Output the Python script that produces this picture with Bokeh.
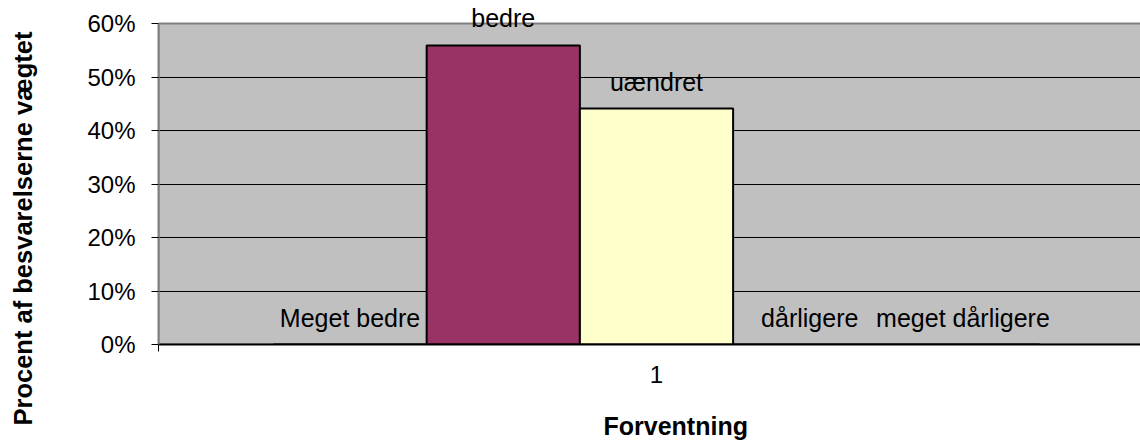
import math
from bokeh.plotting import figure
from bokeh.layouts import row, column
from bokeh.models import Range1d, FixedTicker, NumeralTickFormatter, Label, ColumnDataSource
from bokeh.core.properties import value
from bokeh.embed import file_html
from bokeh.resources import INLINE

# data
series = ["Meget bedre", "bedre", "uændret", "dårligere", "meget dårligere"]
values = [0.0, 0.559, 0.441, 0.0, 0.0]
colors = ["#9999FF", "#993366", "#FFFFCC", "#CCFFFF", "#660066"]
category = "1"
y_ticks = [0.0, 0.1, 0.2, 0.3, 0.4, 0.5, 0.6]
x_title = "Forventning"
y_title = "Procent af besvarelserne vægtet"

FONT = "Liberation Sans"

# layout sizes (pixels)
LEFT_W = 40          # strip holding the y title
MAIN_W = 1140 - LEFT_W
FRAME_W = 982
BORDER_L = MAIN_W - FRAME_W
FRAME_H = 344        # frame reaches the top of the canvas; plot area is 321px tall
PLOT_H = 321
MAIN_H = 400
BOTTOM_H = 442 - MAIN_H

# Excel-like clustered layout: one category spanning [0, 1], gap width 150%
n = len(series)
bar_w = 1.0 / (n + 1.5)
centers = [0.5 + (i - (n - 1) / 2) * bar_w for i in range(n)]
y_max = y_ticks[-1]

src = ColumnDataSource(dict(x=centers, top=values, color=colors, name=series))

p = figure(width=MAIN_W, height=MAIN_H, frame_width=FRAME_W, frame_height=FRAME_H,
           x_range=Range1d(0, FRAME_W / 996), y_range=Range1d(0, y_max * FRAME_H / PLOT_H),
           output_backend="svg", toolbar_location=None,
           min_border_left=BORDER_L, min_border_right=0,
           min_border_top=0, min_border_bottom=MAIN_H - FRAME_H)

p.background_fill_color = "white"
p.border_fill_color = "white"
p.outline_line_color = None

# grey plot area (Excel style)
p.quad(left=[0.0], right=[1.0], bottom=[0.0], top=[y_max],
       fill_color="#C0C0C0", line_color="#808080", line_width=2, level="image")

p.vbar(x="x", top="top", width=bar_w, bottom=0, source=src,
       fill_color="color", line_color="black", line_width=2)

p.text(x="x", y="top", text="name", source=src, y_offset=-27,
       text_align="center", text_baseline="middle",
       text_font=value(FONT), text_font_size="25px", text_color="black")

# grid
p.xgrid.visible = False
p.ygrid.ticker = FixedTicker(ticks=y_ticks[1:-1])
p.ygrid.grid_line_color = "black"
p.ygrid.grid_line_width = 1

# y axis
ya = p.yaxis[0]
ya.ticker = FixedTicker(ticks=y_ticks)
ya.bounds = (y_ticks[0], y_ticks[-1])
ya.formatter = NumeralTickFormatter(format="0%")
ya.axis_line_color = "#808080"
ya.axis_line_width = 2
ya.major_tick_in = 0
ya.major_tick_out = 7
ya.major_tick_line_color = "black"
ya.minor_tick_line_color = None
ya.major_label_standoff = 16
ya.major_label_text_font = FONT
ya.major_label_text_font_size = "24px"
ya.major_label_text_color = "black"

# x axis
xa = p.xaxis[0]
xa.ticker = FixedTicker(ticks=[0.5], minor_ticks=[0.0, 1.0])
xa.major_label_overrides = {0.5: category}
xa.axis_line_color = "black"
xa.axis_line_width = 2
xa.major_tick_line_color = None
xa.major_tick_out = 0
xa.major_tick_in = 0
xa.minor_tick_in = 0
xa.minor_tick_out = 7
xa.minor_tick_line_color = "black"
xa.major_label_standoff = 14
xa.major_label_text_font = FONT
xa.major_label_text_font_size = "24px"
xa.major_label_text_color = "black"


def strip(w, h, border_left=0):
    s = figure(width=w, height=h, frame_width=w - border_left, frame_height=h,
               x_range=Range1d(0, w - border_left), y_range=Range1d(0, h),
               output_backend="svg", toolbar_location=None,
               x_axis_location=None, y_axis_location=None,
               min_border=0, min_border_left=border_left, min_border_right=0,
               min_border_top=0, min_border_bottom=0)
    s.outline_line_color = None
    s.background_fill_color = "white"
    s.border_fill_color = "white"
    s.grid.visible = False
    return s


# y title strip
left = strip(LEFT_W, 442)
left.add_layout(Label(x=22, y=442 - 228, x_units="screen", y_units="screen", text=y_title,
                      angle=math.pi / 2, text_align="center", text_baseline="middle",
                      text_font=FONT, text_font_size="25.5px", text_font_style="bold",
                      text_color="black"))

# x title strip (frame aligned with the main plot frame)
bottom = strip(MAIN_W, BOTTOM_H, border_left=BORDER_L)
bottom.add_layout(Label(x=603 - (LEFT_W + BORDER_L), y=17, x_units="screen", y_units="screen",
                        text=x_title, text_align="left", text_baseline="middle",
                        text_font=FONT, text_font_size="25px", text_font_style="bold",
                        text_color="black"))

layout = row(left, column(p, bottom, spacing=0), spacing=0)

open("out.html", "w").write(file_html(layout, INLINE))
